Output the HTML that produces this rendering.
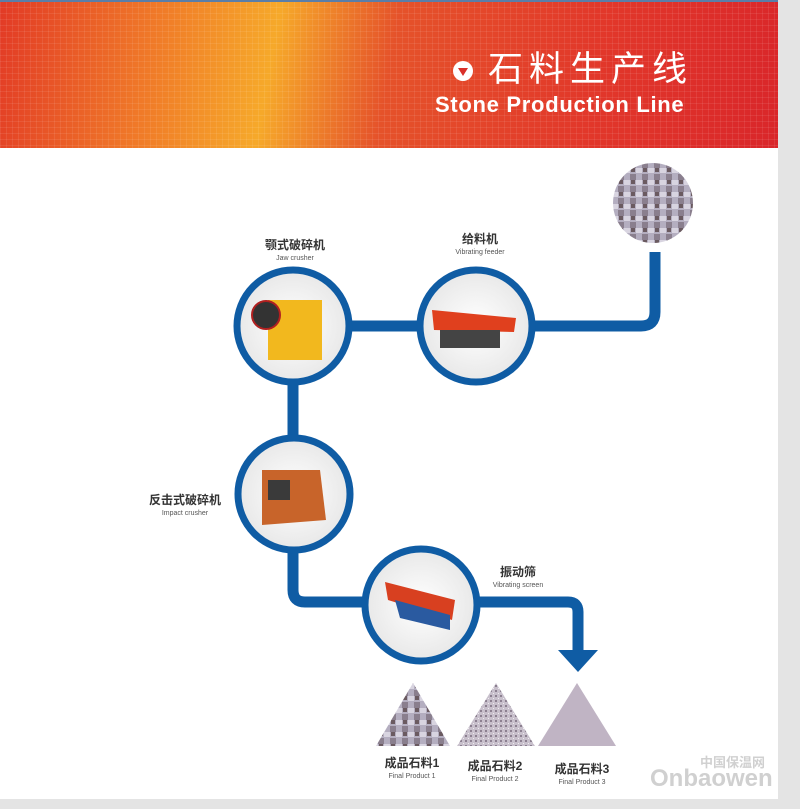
<!DOCTYPE html>
<html><head><meta charset="utf-8"><style>
body{margin:0;width:800px;height:809px;background:#fff;overflow:hidden;font-family:"Liberation Sans","Noto Sans CJK SC",sans-serif;position:relative}
.hdr{position:absolute;left:0;top:0;width:778px;height:146px;background:linear-gradient(100deg,#e23a26 0%,#f07a28 20%,#f6a92a 35%,#e5522a 50%,#e2382a 75%,#d9262a 100%);border-top:2px solid #5a7ea8}
.hdr:after{content:"";position:absolute;inset:0;background-image:linear-gradient(90deg,rgba(255,255,255,.08) 1px,transparent 1px),linear-gradient(0deg,rgba(255,255,255,.08) 1px,transparent 1px);background-size:6px 6px}
.right{position:absolute;left:778px;top:0;width:22px;height:809px;background:#e4e4e4}
.bot{position:absolute;left:0;top:799px;width:800px;height:10px;background:#e4e4e4}
.t1{position:absolute;left:488px;top:50px;color:#fff;font-size:35px;letter-spacing:6px;z-index:2;line-height:40px}
.t2{position:absolute;left:435px;top:93px;color:#fff;font-size:22px;font-weight:bold;letter-spacing:0.7px;z-index:2;line-height:24px}
.lab{position:absolute;text-align:center;color:#333;font-size:12px;font-weight:bold;line-height:13px}
.lab small{display:block;font-size:7px;font-weight:normal;color:#555}
</style></head><body>
<div class="hdr"></div>
<div class="right"></div><div class="bot"></div>
<svg style="position:absolute;left:452px;top:60px;z-index:2" width="22" height="22"><circle cx="11" cy="11" r="10" fill="#fff"/><path d="M6 8 L16 8 L11 16Z" fill="#d9302a"/></svg>
<div class="t1">石料生产线</div>
<div class="t2">Stone Production Line</div>
<svg style="position:absolute;left:0;top:0" width="800" height="809">
<defs>
<radialGradient id="g" cx="50%" cy="50%" r="50%"><stop offset="0" stop-color="#fff"/><stop offset="1" stop-color="#e8e8e8"/></radialGradient>
<pattern id="st" width="12" height="12" patternUnits="userSpaceOnUse"><rect width="12" height="12" fill="#b4aec0"/><path d="M0 0h6v5H0z" fill="#d8d4e0"/><path d="M6 6h6v6H6z" fill="#8a7f8e"/><path d="M7 0h4v4H7z" fill="#6a5a60"/></pattern>
<pattern id="st2" width="5" height="5" patternUnits="userSpaceOnUse"><rect width="5" height="5" fill="#c8c0cc"/><rect width="2" height="2" fill="#8c8090"/><rect x="3" y="3" width="1" height="1" fill="#f0ecf0"/></pattern>
</defs>
<g fill="none" stroke="#0f5ca4" stroke-width="11">
<path d="M655 252 V312 Q655 326 641 326 H293"/>
<path d="M293 326 V590 Q293 602 305 602 H568 Q578 602 578 612 V652"/>
</g>
<path d="M558 650 L598 650 L578 672Z" fill="#0f5ca4"/>
<g stroke="#0f5ca4" stroke-width="7" fill="url(#g)">
<circle cx="293" cy="326" r="56"/><circle cx="476" cy="326" r="56"/>
<circle cx="294" cy="494" r="56"/><circle cx="421" cy="605" r="56"/>
</g>
<circle cx="653" cy="203" r="40" fill="url(#st)"/>
<rect x="268" y="300" width="54" height="60" fill="#f2b81e"/><circle cx="266" cy="315" r="14" fill="#333" stroke="#b02020" stroke-width="2"/>
<path d="M432 310 L516 318 L514 332 L434 330Z" fill="#e0401e"/><rect x="440" y="330" width="60" height="18" fill="#444"/>
<path d="M262 470 L320 470 L326 520 L262 525Z" fill="#c8642a"/><rect x="268" y="480" width="22" height="20" fill="#3a3a3a"/>
<path d="M385 582 L455 600 L452 620 L388 600Z" fill="#d84020"/><path d="M395 600 L450 615 L450 630 L400 618Z" fill="#2a5aa0"/>
<path d="M376 746 L413 683 L450 746Z" fill="url(#st)"/>
<path d="M457 746 L496 683 L535 746Z" fill="url(#st2)"/>
<path d="M538 746 L577 683 L616 746Z" fill="#c0b4c4"/>
</svg>
<div class="lab" style="left:250px;top:239px;width:90px">颚式破碎机<small>Jaw crusher</small></div>
<div class="lab" style="left:440px;top:233px;width:80px">给料机<small>Vibrating feeder</small></div>
<div class="lab" style="left:140px;top:494px;width:90px">反击式破碎机<small>Impact crusher</small></div>
<div class="lab" style="left:478px;top:566px;width:80px">振动筛<small>Vibrating screen</small></div>
<div class="lab" style="left:372px;top:757px;width:80px">成品石料1<small>Final Product 1</small></div>
<div class="lab" style="left:455px;top:760px;width:80px">成品石料2<small>Final Product 2</small></div>
<div class="lab" style="left:542px;top:763px;width:80px">成品石料3<small>Final Product 3</small></div>
<div style="position:absolute;left:700px;top:752px;color:#d0d0d0;font-size:13px;font-weight:bold">中国保温网</div>
<div style="position:absolute;left:650px;top:765px;color:#d0d0d0;font-size:24px;font-weight:bold">Onbaowen</div>
</body></html>
